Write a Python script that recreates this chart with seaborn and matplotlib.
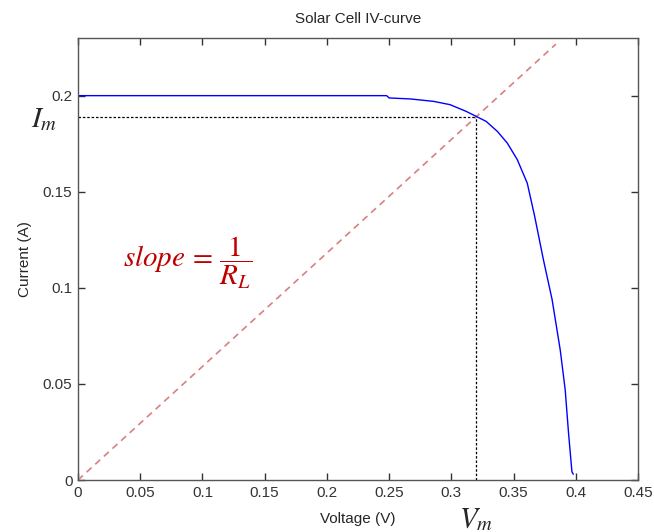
import numpy as np
import matplotlib
matplotlib.use("Agg")
import matplotlib.pyplot as plt
import seaborn as sns

# IV curve
voltage = [0.0, 0.05, 0.10, 0.15, 0.20, 0.248, 0.250, 0.267, 0.286, 0.299,
           0.312, 0.320, 0.328, 0.337, 0.345, 0.353, 0.361, 0.367, 0.374,
           0.381, 0.3875, 0.3915, 0.3942, 0.3969, 0.398]
current = [0.2, 0.2, 0.2, 0.2, 0.2, 0.2, 0.1988, 0.1983, 0.197, 0.1953,
           0.1918, 0.1892, 0.1866, 0.1814, 0.1753, 0.1667, 0.1545, 0.1371, 0.1146,
           0.0938, 0.0677, 0.0469, 0.0243, 0.0043, 0.003]

# max power point and load line
v_m = 0.32
i_m = 0.189
load_v = [0.0, 0.384]
load_i = [0.0, 0.384 * i_m / v_m]

x_ticks = [0, 0.05, 0.1, 0.15, 0.2, 0.25, 0.3, 0.35, 0.4, 0.45]
x_labels = ["0", "0.05", "0.1", "0.15", "0.2", "0.25", "0.3", "0.35", "0.4", "0.45"]
y_ticks = [0, 0.05, 0.1, 0.15, 0.2]
y_labels = ["0", "0.05", "0.1", "0.15", "0.2"]

sns.set_style("ticks")
plt.rcParams['font.family'] = ['Liberation Sans', 'DejaVu Sans']
plt.rcParams['mathtext.fontset'] = 'stix'

fig = plt.figure(figsize=(6.54, 5.32), dpi=100)
ax = fig.add_axes([78 / 654, 52 / 532, 560 / 654, 442 / 532])

sns.lineplot(x=load_v, y=load_i, ax=ax, color='#d98080', lw=1.2,
             linestyle=(0, (4, 3)))
ax.plot([0, v_m], [i_m, i_m], color='black', lw=0.9, linestyle=(0, (2, 1.5)))
ax.plot([v_m, v_m], [0, i_m], color='black', lw=0.9, linestyle=(0, (2, 1.5)))
sns.lineplot(x=voltage, y=current, ax=ax, color='#0000ff', lw=1.0)

ax.set_xlim(0, 0.45)
ax.set_ylim(0, 0.23)
ax.set_xticks(x_ticks)
ax.set_xticklabels(x_labels)
ax.set_yticks(y_ticks)
ax.set_yticklabels(y_labels)
ax.tick_params(direction='in', length=5, width=1, colors='#333333',
               labelsize=11, top=True, right=True, pad=4)
for s in ax.spines.values():
    s.set_color('#555555')
    s.set_linewidth(1)

ax.set_title("Solar Cell IV-curve", fontsize=11, pad=11)
ax.set_xlabel("Voltage (V)", fontsize=11, labelpad=9)
ax.set_ylabel("Current (A)", fontsize=11, labelpad=8)

ax.text(-0.0273, i_m - 0.001, r'$I_m$', fontsize=21, ha='center', va='center',
        clip_on=False)
ax.text(v_m, -0.0205, r'$V_m$', fontsize=21, ha='center', va='center',
        clip_on=False)
ax.text(0.088, 0.1128, r'$slope\,=\,\dfrac{1}{R_L}$', fontsize=21, color='#c00000',
        ha='center', va='center')

plt.savefig("out.png", dpi=100)
